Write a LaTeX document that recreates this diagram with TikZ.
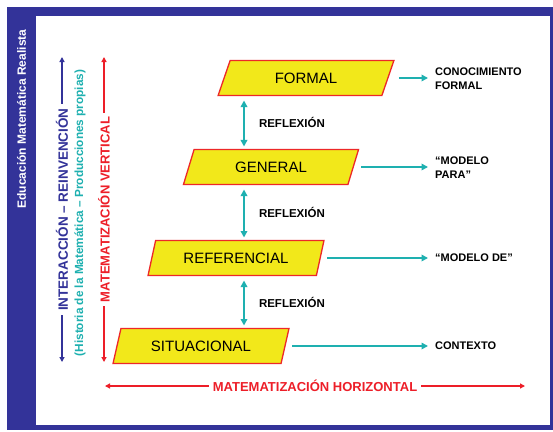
\documentclass[tikz,border=0pt]{standalone}
\usepackage{fontspec}
\setmainfont{Liberation Sans}
\usetikzlibrary{arrows.meta,shapes.geometric}

\definecolor{frameblue}{RGB}{51,51,153}
\definecolor{lvlyellow}{RGB}{242,232,26}
\definecolor{lvlred}{RGB}{237,40,40}
\definecolor{reflteal}{RGB}{30,176,176}
\definecolor{axisred}{RGB}{237,30,40}

\tikzset{
    level/.style={trapezium, trapezium left angle=65, trapezium right angle=115,
        trapezium stretches=true, minimum width=176pt, minimum height=35pt,
        inner sep=0pt, outer sep=0pt, draw=lvlred, line width=1.3pt,
        fill=lvlyellow, font=\fontsize{15}{18}\selectfont},
    outcome/.style={anchor=west, inner xsep=7pt, inner ysep=0pt, align=left,
        font=\bfseries\fontsize{11}{14}\selectfont},
    flow/.style={draw=reflteal, line width=2pt, -{Triangle[length=6.5pt,width=6.5pt]}},
    reflect/.style={draw=reflteal, line width=2pt,
        {Triangle[length=6.5pt,width=6.5pt]}-{Triangle[length=6.5pt,width=6.5pt]},
        shorten <=5pt, shorten >=3pt},
    refltext/.style={anchor=west, inner sep=0pt, xshift=14pt,
        font=\bfseries\fontsize{11.5}{14}\selectfont},
    axis/.style={line width=1.4pt, {Triangle[length=5pt,width=5pt]}-{Triangle[length=5pt,width=5pt]}},
    axistext/.style={fill=white, inner xsep=4pt, inner ysep=1pt,
        font=\bfseries\fontsize{13}{15}\selectfont}
}

\begin{document}
\begin{tikzpicture}[x=1pt, y=-1pt]
    %%Background
    \useasboundingbox (0,0) rectangle (553,431);
    \fill[frameblue] (7,7) rectangle (553,430);
    \fill[white] (36,16) rectangle (550,425);
    \node[rotate=90, text=white, font=\bfseries\fontsize{12}{14}\selectfont] (title)
        at (21.5,119) {Educación Matemática Realista};
    %%Levels
    \node[level] (formal) at (306,78) {FORMAL};
    \node[level] (general) at (271,167) {GENERAL};
    \node[level] (referencial) at (236,258) {REFERENCIAL};
    \node[level] (situacional) at (201,346) {SITUACIONAL};

    \node[outcome] (conoc) at (428,79) {CONOCIMIENTO\\FORMAL};
    \node[outcome] (para) at (428,168) {“MODELO\\PARA”};
    \node[outcome] (de) at (428,258) {“MODELO DE”};
    \node[outcome] (contexto) at (428,346) {CONTEXTO};

    \draw[flow, shorten <=11pt] (formal.east) -- (formal.east -| conoc.west);
    \draw[flow, shorten <=8pt] (general.east) -- (general.east -| para.west);
    \draw[flow, shorten <=7pt] (referencial.east) -- (referencial.east -| de.west);
    \draw[flow, shorten <=7pt] (situacional.east) -- (situacional.east -| contexto.west);

    %%Reflexion
    \coordinate (refl) at (244,0);
    \draw[reflect] (formal.south -| refl) -- node[refltext] (r1) {REFLEXIÓN} (general.north -| refl);
    \draw[reflect] (general.south -| refl) -- node[refltext] (r2) {REFLEXIÓN} (referencial.north -| refl);
    \draw[reflect] (referencial.south -| refl) -- node[refltext] (r3) {REFLEXIÓN} (situacional.north -| refl);

    %%Axes
    \coordinate (itop) at (62,57);
    \coordinate (ibot) at (62,362);
    \coordinate (vtop) at (104,57);
    \coordinate (vbot) at (104,362);
    \coordinate (hleft) at (105,386);
    \coordinate (hright) at (525,386);
    \draw[axis, draw=frameblue, line width=1.2pt] (itop) -- node[axistext, rotate=90, text=frameblue,
        font=\bfseries\fontsize{13.5}{15}\selectfont] (inter) {INTERACCIÓN – REINVENCIÓN} (ibot);
    \node[rotate=90, text=reflteal, font=\bfseries\fontsize{11.8}{14}\selectfont] (hist)
        at (80,213) {(Historia de la Matemática – Producciones propias)};
    \draw[axis, draw=axisred] (vtop) -- node[axistext, rotate=90, text=axisred] (vert)
        {MATEMATIZACIÓN VERTICAL} (vbot);
    \draw[axis, draw=axisred] (hleft) -- node[axistext, text=axisred] (horiz)
        {MATEMATIZACIÓN HORIZONTAL} (hright);
\end{tikzpicture}
\end{document}
